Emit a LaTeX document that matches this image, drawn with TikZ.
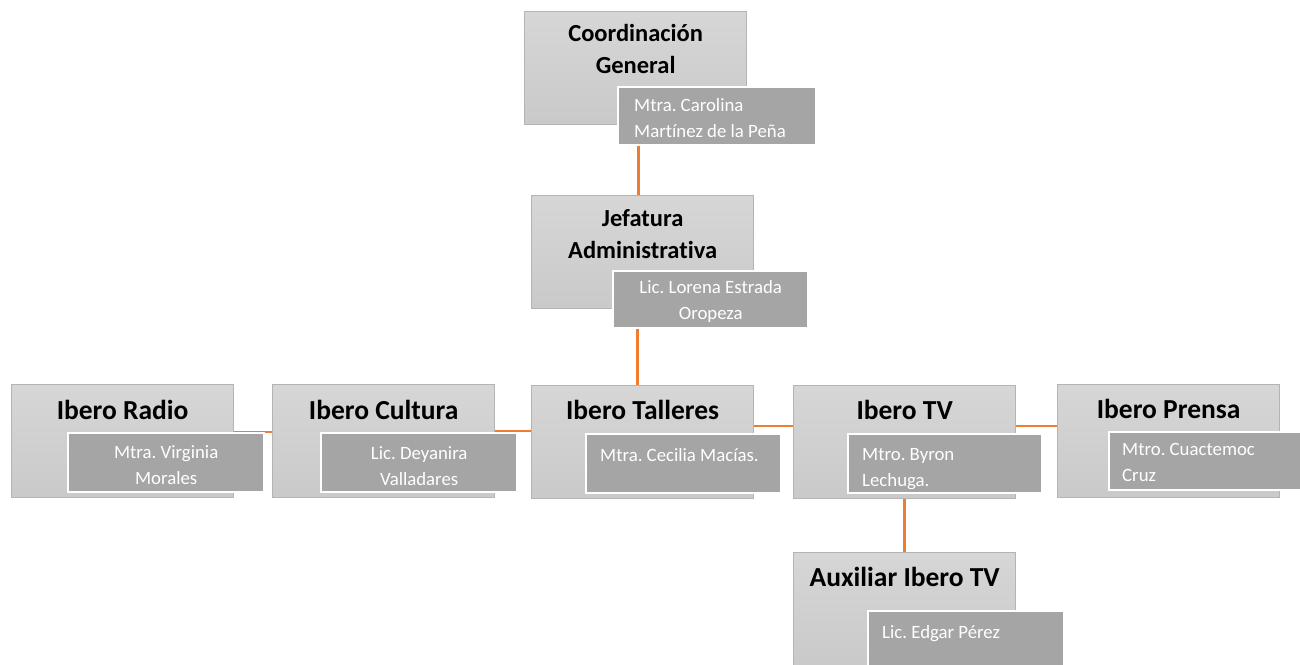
\documentclass[tikz,border=0pt]{standalone}
\usepackage{fontspec}
\setmainfont{Carlito}[Ligatures={NoCommon}]
\usepackage{tikz}
\frenchspacing

\definecolor{naranja}{HTML}{ED7D31}
\definecolor{grisborde}{HTML}{B4B4B4}
\definecolor{griscargo}{HTML}{A5A5A5}

\begin{document}
\begin{tikzpicture}[
            x=1pt,   % 1 px = 1 pt
            y=-1pt,  % y hacia abajo
            area/.style={draw=grisborde, line width=1.3pt, top color=black!16, bottom color=black!21,
                         minimum width=222, minimum height=113, anchor=north west, inner sep=0},
            cargo/.style={draw=white, line width=2.4pt, fill=griscargo,
                          minimum height=59, minimum width=196, anchor=north west, inner sep=0},
            titulo/.style={font=\fontsize{27.5}{32}\selectfont\bfseries, align=center, inner sep=0},
            nombre/.style={font=\fontsize{18.8}{26}\selectfont, text=white, inner sep=0},
            enlace/.style={naranja, line width=2.4pt}
        ]
            \useasboundingbox (0,0) rectangle (1300,664);

            % cajas grises
            \node[area] (coord) at (524,11) {};
            \node[area] (jef) at (531,195) {};
            \node[area] (radio) at (11,384) {};
            \node[area] (cultura) at (272,384) {};
            \node[area] (talleres) at (531,385) {};
            \node[area] (tv) at (793,385) {};
            \node[area] (prensa) at (1057,384) {};
            \node[area] (aux) at (793,552) {};

            % lineas
            \draw[enlace] ([xshift=-4]jef.north) -- ([xshift=-4,yshift=-20]jef.north |- coord.south);
            \draw[enlace] ([xshift=-5]talleres.north) -- ([xshift=-5,yshift=-19]talleres.north |- jef.south);
            \draw[enlace] ([yshift=9]radio.east) -- ([yshift=9]radio.east -| cultura.west);
            \draw[enlace] ([yshift=10]cultura.east) -- ([yshift=10]cultura.east -| talleres.west);
            \draw[enlace] ([yshift=16]talleres.east) -- ([yshift=16]talleres.east -| tv.west);
            \draw[enlace] ([yshift=16]tv.east) -- ([yshift=16]tv.east -| prensa.west);
            \draw[enlace] (tv.south) -- (aux.north);

            % titulos
            \node[titulo, font=\fontsize{24.5}{32}\selectfont\bfseries] (coordt) at ([yshift=-38]coord.north) {Coordinación\\General};
            \node[titulo, font=\fontsize{24.5}{32}\selectfont\bfseries] (jeft) at ([yshift=-39]jef.north) {Jefatura\\Administrativa};
            \node[titulo] (radiot) at ([yshift=-26]radio.north) {Ibero Radio};
            \node[titulo] (culturat) at ([yshift=-26]cultura.north) {Ibero Cultura};
            \node[titulo] (tallerest) at ([yshift=-25]talleres.north) {Ibero Talleres};
            \node[titulo] (tvt) at ([yshift=-25]tv.north) {Ibero TV};
            \node[titulo] (prensat) at ([yshift=-25]prensa.north) {Ibero Prensa};
            \node[titulo] (auxt) at ([yshift=-25]aux.north) {Auxiliar Ibero TV};

            % cajas de nombres
            \node[cargo, minimum width=198, minimum height=58] (coordn) at (617,86) {};
            \node[cargo, minimum width=195, minimum height=57] (jefn) at (612,270) {};
            \node[cargo] (radion) at (67,432) {};
            \node[cargo] (culturan) at (320,432) {};
            \node[cargo, minimum width=195] (talleresn) at (585,433) {};
            \node[cargo, minimum width=194] (tvn) at (847,433) {};
            \node[cargo, minimum height=58] (prensan) at (1108,431) {};
            \node[cargo] (auxn) at (867,610) {};

            % nombres
            \node[nombre, anchor=north west, align=left] (coordx) at ([xshift=17,yshift=-12]coordn.north west) {Mtra. Carolina\\Martínez de la Peña};
            \begin{scope}
                \clip ([yshift=2]jefn.south west) rectangle (jefn.north east);
                \node[nombre, anchor=north, align=center] (jefx) at ([yshift=-10]jefn.north) {Lic. Lorena Estrada\\Oropeza};
            \end{scope}
            \node[nombre, anchor=north, align=center] (radiox) at ([yshift=-13]radion.north) {Mtra. Virginia\\Morales};
            \node[nombre, anchor=north, align=center] (culturax) at ([yshift=-14]culturan.north) {Lic. Deyanira\\Valladares};
            \node[nombre, anchor=north west] (talleresx) at ([xshift=15,yshift=-15]talleresn.north west) {Mtra. Cecilia Macías.};
            \begin{scope}
                \clip ([yshift=6]tvn.south west) rectangle (tvn.north east);
                \node[nombre, anchor=north west, align=left] (tvx) at ([xshift=15,yshift=-15]tvn.north west) {Mtro. Byron\\Lechuga.};
            \end{scope}
            \node[nombre, anchor=north west, align=left] (prensax) at ([xshift=14,yshift=-12]prensan.north west) {Mtro. Cuactemoc\\Cruz};
            \node[nombre, anchor=north west] (auxx) at ([xshift=15,yshift=-15]auxn.north west) {Lic. Edgar Pérez};
        \end{tikzpicture}
\end{document}
